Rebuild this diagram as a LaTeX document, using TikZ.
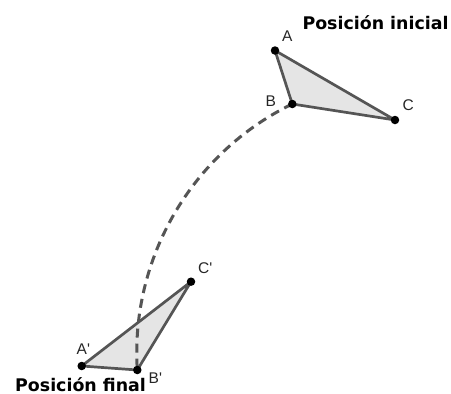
\documentclass[tikz,border=0pt]{standalone}
\usepackage{fontspec}
\setmainfont{DejaVu Sans}
\newfontfamily\lblfont{Liberation Sans}
\begin{document}
\begin{tikzpicture}[x=1pt,y=-1pt,
  tri/.style={draw=edgegray,fill=fillgray,line width=2.7pt,line join=round},
  pt/.style={circle,fill=black,inner sep=0pt,minimum size=8.5pt},
  lbl/.style={anchor=base west,inner sep=0pt,font=\lblfont\fontsize{15.5}{17}\selectfont,text=black!85},
  ttl/.style={anchor=base west,inner sep=0pt,font=\fontsize{17.4}{20}\selectfont\bfseries},
  trace/.style={draw=edgegray,line width=3pt,dash pattern=on 9pt off 6pt}]
\definecolor{edgegray}{HTML}{555555}
\definecolor{fillgray}{HTML}{E5E5E5}
\useasboundingbox (0,0) rectangle (451,394);
\coordinate (A) at (275,50.5);
\coordinate (B) at (292.3,104);
\coordinate (C) at (395,120);
\coordinate (A2) at (81.7,366);
\coordinate (B2) at (137.3,370);
\coordinate (C2) at (191,281.7);
\path[tri] (A) -- (B) -- (C) -- cycle;
\path[tri] (A2) -- (B2) -- (C2) -- cycle;
\draw[trace] (B) to[bend right=33.9,looseness=0.93] (B2);
\foreach \p in {A,B,C,A2,B2,C2} \node[pt] (n\p) at (\p) {};
\node[lbl] (lA) at (282,41) {A};
\node[lbl] (lB) at (265.5,106.5) {B};
\node[lbl] (lC) at (402.5,110.5) {C};
\node[lbl] (lA2) at (76.5,354.5) {A\textquotesingle};
\node[lbl] (lB2) at (148.5,383.5) {B\textquotesingle};
\node[lbl] (lC2) at (198,273.5) {C\textquotesingle};
\node[ttl] (t1) at (302.3,29.3) {Posición inicial};
\node[ttl] (t2) at (15,391) {Posición final};
\end{tikzpicture}
\end{document}
